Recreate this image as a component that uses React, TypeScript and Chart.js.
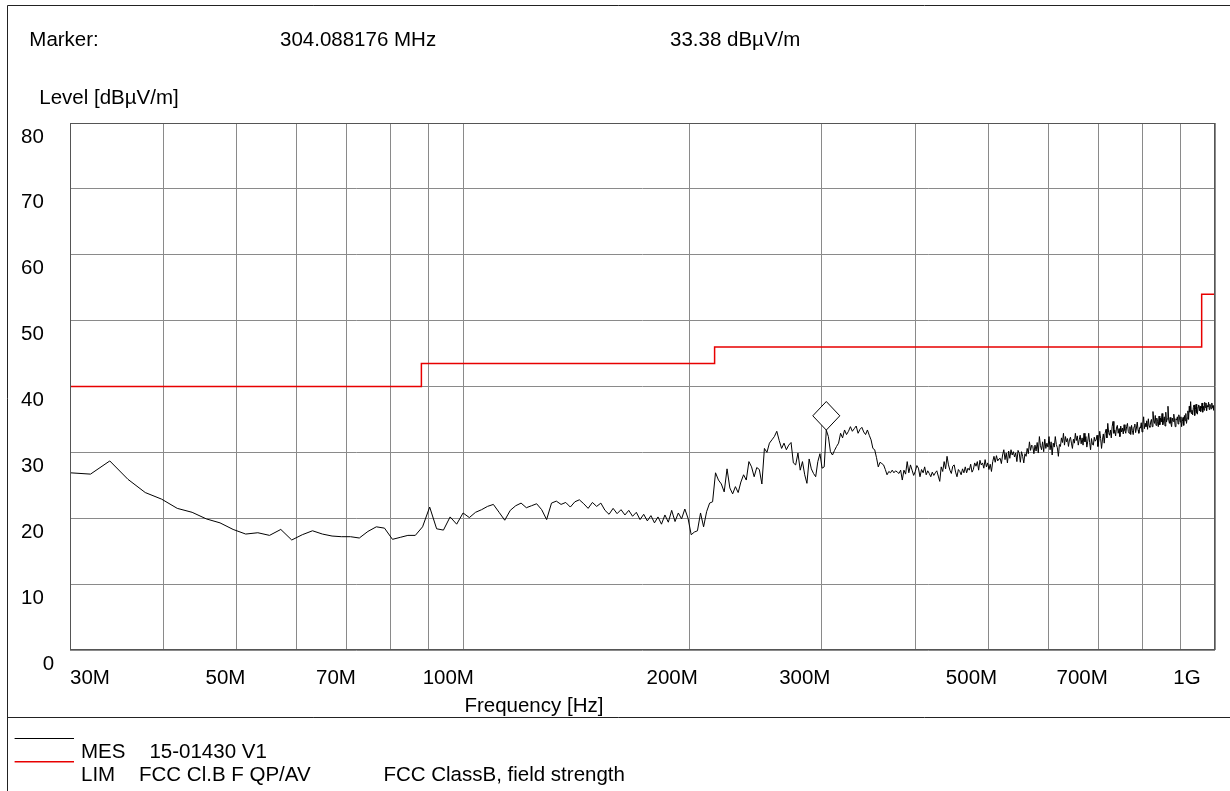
import React, { useEffect, useRef } from "react";
import { Chart, registerables } from "chart.js";

Chart.register(...registerables);

// ---- Sweep definition (linear sweep, 500 points) ----
const SWEEP_START_MHZ = 30;
const SWEEP_STOP_MHZ = 1000;

// ---- Measured level, dBµV/m (MES 15-01430 V1), one value per sweep point ----
const MES_LEVELS: number[] = [
  // 30 - 104 MHz
  26.9, 26.7, 28.7, 25.9, 23.9, 22.9, 21.5, 20.9, 19.9, 19.3,
  18.3, 17.6, 17.8, 17.4, 18.3, 16.7, 17.5, 18.1, 17.6, 17.3,
  17.2, 17.2, 17.0, 18.0, 18.7, 18.5, 16.8, 17.1, 17.4, 17.4,
  18.7, 21.7, 18.4, 18.2, 20.2, 19.1, 20.8, 20.1, 20.9,
  // 105 - 200 MHz
  21.3, 21.8, 22.1, 20.9, 19.7, 21.2, 21.9, 22.3, 21.6, 21.9,
  22.2, 21.3, 19.8, 22.3, 22.6, 22.1, 22.4, 21.7, 22.5, 22.8,
  22.2, 21.5, 22.4, 21.8, 22.3, 21.2, 20.6, 21.5, 20.7, 21.3,
  20.5, 21.2, 20.3, 20.9, 19.8, 20.6, 19.6, 20.4, 19.3, 20.2,
  19.1, 20.5, 19.4, 21.2, 19.5, 20.8, 19.9, 21.4, 20.0,
  // 201 - 420 MHz
  17.5, 17.9, 18.1, 20.8, 18.7, 21.0, 22.3, 22.5, 26.9, 25.8,
  25.2, 24.0, 27.5, 24.6, 23.7, 24.8, 23.9, 25.5, 26.6, 25.8,
  28.6, 27.8, 26.3, 27.7, 27.4, 25.2, 30.6, 30.0, 31.4, 31.9,
  32.4, 33.2, 31.8, 30.6, 31.4, 30.4, 31.1, 31.5, 28.4, 28.1,
  29.9, 27.3, 28.6, 26.6, 25.3, 29.0, 27.5, 26.8, 26.3, 28.6,
  29.8, 27.6, 27.8, 33.38, 32.4, 30.1, 29.6, 30.3, 30.9, 31.4,
  32.9, 32.2, 33.4, 32.7, 33.2, 33.9, 33.2, 33.6, 34.0, 32.9,
  33.5, 33.8, 33.1, 32.7, 33.4, 32.6, 31.9, 30.6, 30.4, 29.2,
  27.8, 28.5, 28.3, 28.1, 27.4, 26.6, 27.1, 26.9, 27.3, 26.9,
  27.2, 27.0, 26.8, 27.3, 25.8, 27.3, 26.7, 28.6, 26.9, 28.1,
  27.3, 26.5, 27.1, 28.0, 27.6, 26.3, 27.4, 26.9, 27.8, 26.6,
  27.2, 26.8, 26.3,
  // 420 - 515 MHz
  27.0, 26.5, 26.9, 27.2, 26.4, 25.6, 27.8, 27.1, 28.6, 27.5, 29.4, 28.1,
  27.3, 26.8, 27.9, 28.1, 27.0, 26.3, 27.4, 27.1, 26.6, 27.5, 26.9, 27.8,
  26.9, 27.6, 27.3, 28.2, 27.0, 27.4, 28.4, 27.9, 28.6, 27.3, 28.8, 28.1,
  28.4, 27.6, 28.9, 27.8, 28.4, 27.4, 28.2, 27.1, 28.6, 29.4, 28.5, 29.5, 28.7, 29.0,
  // 518 - 600 MHz
  29.1, 28.3, 29.6, 30.4, 28.9, 29.9, 28.4, 30.2, 29.1, 30.4, 29.6, 30.1,
  29.3, 29.9, 28.6, 30.3, 29.9, 28.5, 30.1, 29.4, 28.4, 29.8, 29.4, 30.6, 29.8, 31.6,
  30.3, 31.1, 30.9, 29.8, 31.1, 30.2, 31.5, 29.9, 32.4, 31.0, 30.4, 31.6, 30.1, 32.0, 30.6, 31.4, 30.8, 32.4,
  // 603 - 725 MHz
  30.4, 31.6, 29.6, 31.4, 30.8, 32.4, 31.2, 30.7, 29.4, 31.2,
  30.9, 32.2, 31.5, 32.9, 31.1, 32.4, 31.6, 32.1, 30.9, 31.9,
  32.3, 31.4, 30.6, 32.0, 31.4, 32.9, 31.8, 32.5, 31.1, 31.9,
  32.6, 31.3, 32.2, 31.1, 32.9, 31.6, 32.4, 30.8, 31.7, 32.9, 31.5,
  30.4, 32.1, 31.2, 31.1, 32.3, 31.7, 31.9, 32.6, 30.9, 31.8,
  33.2, 32.1, 30.6, 31.9, 32.8, 31.4, 32.9, 33.5, 32.2, 34.4, 33.0, 32.6,
  // 727 - 820 MHz
  33.4, 32.2, 33.9, 34.7, 32.9, 33.4, 32.5, 33.7, 34.1, 32.9,
  33.6, 32.4, 34.0, 33.1, 33.7, 32.8, 34.2, 33.3, 32.9, 33.9, 34.4, 33.2, 32.9,
  33.9, 32.7, 34.1, 33.3, 32.7, 33.9, 34.3, 33.0, 33.7, 34.6,
  33.4, 32.9, 33.8, 33.7, 34.5, 33.1, 34.2, 35.4, 33.6, 34.4,
  33.9, 34.8, 33.5, 35.1, 34.0, 33.8,
  // 821 - 924 MHz
  34.6, 35.0, 33.9, 36.2, 34.8, 34.4, 35.6, 34.1, 35.2, 34.7,
  33.9, 35.5, 34.2, 35.2, 34.6, 35.9, 34.2, 34.8, 35.4, 34.0,
  36.1, 34.6, 35.1, 37.0, 34.9, 34.4,
  35.3, 34.4, 33.9, 35.2, 34.7, 35.8, 34.9, 33.9, 35.1, 34.9,
  35.4, 34.3, 35.7, 35.2, 34.6, 35.4, 33.9, 34.7, 35.3, 34.1,
  35.6, 34.8, 35.9, 34.4, 35.2, 36.3, 35.0, 37.0,
  // 926 - 1000 MHz
  36.1, 37.7, 35.9, 36.4, 35.7, 36.8, 37.2, 35.6, 36.5, 37.3,
  36.0, 35.8, 36.9, 37.2, 36.3,
  37.0, 36.2, 36.7, 37.5, 36.1, 37.0, 36.4, 37.6, 36.8, 37.5,
  36.3, 37.1, 36.9, 37.6, 36.5, 37.3, 37.0, 36.6, 37.5, 36.8,
  37.1, 36.4, 36.9, 36.5,
];

// ---- Limit line: FCC Cl.B F QP/AV ----
const LIMIT_FREQ = [30, 88, 88, 216, 216, 960, 960, 1000];
const LIMIT_LEVEL = [40, 40, 43.5, 43.5, 46, 46, 54, 54];

// ---- Axes ----
const X_GRID = [30, 40, 50, 60, 70, 80, 90, 100, 200, 300, 400, 500, 600, 700, 800, 900, 1000];
const X_TICK_VALUES = [30, 50, 70, 100, 200, 300, 500, 700, 1000];
const X_TICK_LABELS = ["30M", "50M", "70M", "100M", "200M", "300M", "500M", "700M", "1G"];
const Y_TICK_VALUES = [0, 10, 20, 30, 40, 50, 60, 70, 80];

// ---- Marker ----
const MARKER_FREQ = 304.088176;
const MARKER_LEVEL = 33.38;

// ---- Texts ----
const HEADER_MARKER = "Marker:";
const HEADER_FREQ = "304.088176 MHz";
const HEADER_LEVEL = "33.38 dBµV/m";
const Y_TITLE = "Level [dBµV/m]";
const X_TITLE = "Frequency [Hz]";
const LEGEND_ROWS = [
  { tag: "MES", name: "15-01430 V1", desc: "" },
  { tag: "LIM", name: "FCC Cl.B F QP/AV", desc: "FCC ClassB, field strength" },
];

// ---- Styles / layout (not data) ----
const FONT = "'Liberation Sans', Arial, Helvetica, sans-serif";
const FS = 20.5;
const W = 1230;
const H = 791;
const LIMIT_COLOR = "rgb(232,0,0)";
const GRID_COLOR = "#8a8a8a";
const X_LABEL_OFFSETS = [0, -31.3, -30.6, -40.5, -42.9, -42.7, -42.8, -42, -41.7];

const overlayPlugin = {
  id: "emcOverlay",
  afterDatasetsDraw(chart: any) {
    const ctx = chart.ctx as CanvasRenderingContext2D;
    const { left, top, right, bottom } = chart.chartArea;
    const xs = chart.scales.x;
    const ys = chart.scales.y;
    ctx.save();

    // plot border
    ctx.strokeStyle = "#555";
    ctx.lineWidth = 1;
    ctx.strokeRect(Math.round(left) + 0.5, Math.round(top) + 0.5, Math.round(right - left) - 1, Math.round(bottom - top) - 1);

    // marker diamond
    const mx = xs.getPixelForValue(MARKER_FREQ);
    const my = ys.getPixelForValue(MARKER_LEVEL);
    ctx.beginPath();
    ctx.moveTo(mx, my);
    ctx.lineTo(mx + 13.5, my - 14.3);
    ctx.lineTo(mx, my - 28.6);
    ctx.lineTo(mx - 13.5, my - 14.3);
    ctx.closePath();
    ctx.fillStyle = "#fff";
    ctx.fill();
    ctx.strokeStyle = "#000";
    ctx.lineWidth = 1;
    ctx.stroke();

    // outer frame and separator
    ctx.strokeStyle = "#222";
    ctx.beginPath();
    ctx.moveTo(7.5, H);
    ctx.lineTo(7.5, 5.5);
    ctx.lineTo(W, 5.5);
    ctx.stroke();
    ctx.beginPath();
    ctx.moveTo(7.5, 717.5);
    ctx.lineTo(W, 717.5);
    ctx.stroke();

    // texts
    ctx.fillStyle = "#000";
    ctx.font = `${FS}px ${FONT}`;
    ctx.textBaseline = "alphabetic";
    ctx.textAlign = "left";
    ctx.fillText(HEADER_MARKER, 29.3, 46);
    ctx.fillText(HEADER_FREQ, 280, 46);
    ctx.fillText(HEADER_LEVEL, 670, 46);
    ctx.fillText(Y_TITLE, 39.3, 104);

    // y tick labels
    Y_TICK_VALUES.forEach((v) => {
      const y = ys.getPixelForValue(v) + 19.5;
      ctx.fillText(String(v), v === 0 ? 42.7 : 21, y);
    });

    // x tick labels
    X_TICK_VALUES.forEach((v, i) => {
      const x = xs.getPixelForValue(v) + X_LABEL_OFFSETS[i];
      ctx.fillText(X_TICK_LABELS[i], x, 684);
    });

    ctx.fillText(X_TITLE, 464.4, 711.5);

    // legend
    ctx.lineWidth = 1;
    ctx.strokeStyle = "#000";
    ctx.beginPath();
    ctx.moveTo(14.6, 738.5);
    ctx.lineTo(74, 738.5);
    ctx.stroke();
    ctx.strokeStyle = LIMIT_COLOR;
    ctx.lineWidth = 1.5;
    ctx.beginPath();
    ctx.moveTo(14.6, 761.7);
    ctx.lineTo(74, 761.7);
    ctx.stroke();

    ctx.fillStyle = "#000";
    ctx.fillText(LEGEND_ROWS[0].tag, 81, 758);
    ctx.fillText(LEGEND_ROWS[0].name, 149.4, 758);
    ctx.fillText(LEGEND_ROWS[1].tag, 81, 780.5);
    ctx.fillText(LEGEND_ROWS[1].name, 139, 780.5);
    ctx.fillText(LEGEND_ROWS[1].desc, 383.4, 780.5);

    ctx.restore();
  },
};

export default function App() {
  const canvasRef = useRef<HTMLCanvasElement | null>(null);

  useEffect(() => {
    const canvas = canvasRef.current;
    if (!canvas) return;
    const n = MES_LEVELS.length;
    const step = (SWEEP_STOP_MHZ - SWEEP_START_MHZ) / (n - 1);
    const mesData = MES_LEVELS.map((v, i) => ({ x: SWEEP_START_MHZ + i * step, y: v }));
    const limData = LIMIT_FREQ.map((f, i) => ({ x: f, y: LIMIT_LEVEL[i] }));

    const chart = new Chart(canvas, {
      type: "line",
      data: {
        datasets: [
          {
            label: "MES",
            data: mesData,
            borderColor: "#000",
            borderWidth: 1,
            pointRadius: 0,
            tension: 0,
            fill: false,
          },
          {
            label: "LIM",
            data: limData,
            borderColor: LIMIT_COLOR,
            borderWidth: 1.5,
            pointRadius: 0,
            tension: 0,
            fill: false,
          },
        ],
      },
      options: {
        animation: false,
        responsive: false,
        devicePixelRatio: 1,
        layout: { padding: { left: 70, top: 123, right: W - 1215, bottom: H - 650 } },
        plugins: {
          legend: { display: false },
          tooltip: { enabled: false },
          title: { display: false },
        },
        scales: {
          x: {
            type: "logarithmic",
            min: SWEEP_START_MHZ,
            max: SWEEP_STOP_MHZ,
            ticks: { display: false },
            border: { display: false },
            grid: { color: GRID_COLOR, lineWidth: 1, drawTicks: false },
            afterBuildTicks: (s: any) => {
              s.ticks = X_GRID.map((v) => ({ value: v }));
            },
            afterFit: (s: any) => {
              s.height = 0;
            },
          },
          y: {
            type: "linear",
            min: 0,
            max: 80,
            ticks: { display: false, stepSize: 10 },
            border: { display: false },
            grid: { color: GRID_COLOR, lineWidth: 1, drawTicks: false },
            afterFit: (s: any) => {
              s.width = 0;
            },
          },
        },
      } as any,
      plugins: [overlayPlugin],
    });
    return () => chart.destroy();
  }, []);

  return (
    <div style={{ position: "absolute", left: 0, top: 0, width: W, height: H, background: "#fff" }}>
      <canvas ref={canvasRef} width={W} height={H} style={{ display: "block", width: W, height: H }} />
    </div>
  );
}
